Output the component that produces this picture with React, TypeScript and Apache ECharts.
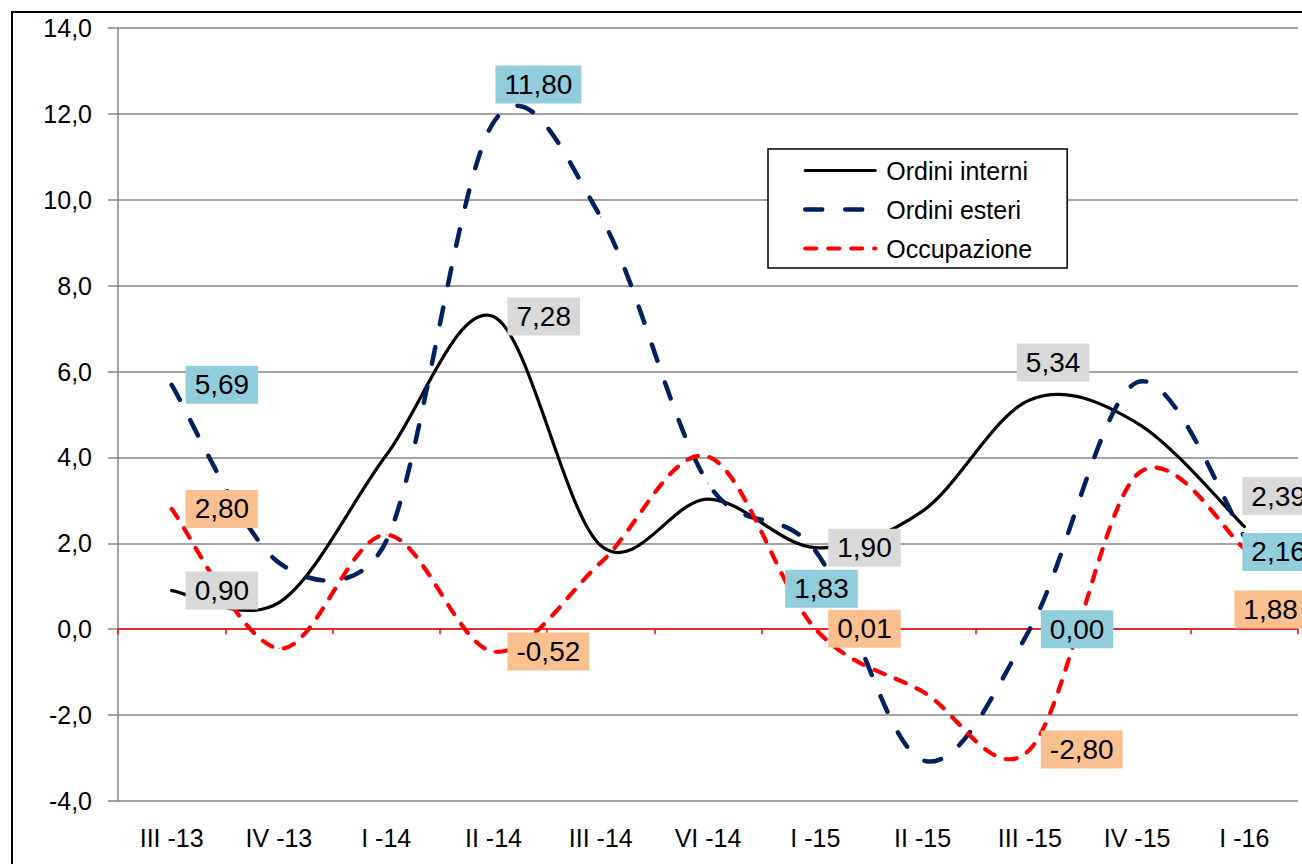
import React, { useEffect, useRef } from "react";
import * as echarts from "echarts";

const categories = ["III -13", "IV -13", "I -14", "II -14", "III -14", "VI -14", "I -15", "II -15", "III -15", "IV -15", "I -16"];
const interni = [0.9, 0.62, 4.05, 7.28, 1.95, 3.03, 1.9, 2.75, 5.34, 4.8, 2.39];
const esteri = [5.69, 1.55, 2.05, 11.8, 9.6, 3.4, 1.83, -3.05, 0.0, 5.75, 2.16];
const occupazione = [2.8, -0.45, 2.2, -0.52, 1.55, 4.02, 0.01, -1.45, -2.8, 3.6, 1.88];
const seriesNames = ["Ordini interni", "Ordini esteri", "Occupazione"];

const yMin = -4;
const yMax = 14;
const yStep = 2;

// label placement (style only): [dx, dy] relative to the point, null = no label
const interniLabelOffsets: (number[] | null)[] = [[13.5, 0], null, null, [13.5, 0], null, null, [12.5, 0], null, [-13.5, -37.5], null, [-2.5, -30.5]];
const esteriLabelOffsets: (number[] | null)[] = [[13.5, 0], null, null, [1.5, -38], null, null, [-30.5, 38], null, [10.5, 0], null, [-2.5, 15.5]];
const occLabelOffsets: (number[] | null)[] = [[13.5, 0], null, null, [13.5, 0], null, null, [12.5, 0], null, [10.5, 0], null, [-10.5, 61]];

const FONT = "'Liberation Sans', Arial, sans-serif";

function buildData(values: number[], offsets: (number[] | null)[], bg: string) {
  return values.map((v, i) => {
    const o = offsets[i];
    if (!o) return v;
    return { value: v, label: { show: true, offset: o, backgroundColor: bg } };
  });
}

// Line series: carries legend entry + data labels; its own line is hidden,
// the visible curve is drawn by the custom series below (Excel-like smoothing).
function makeLabelSeries(name: string, values: number[], offsets: (number[] | null)[], bg: string, color: string, width: number, type: any) {
  return {
    name,
    type: "line",
    xAxisIndex: 0,
    yAxisIndex: 0,
    data: buildData(values, offsets, bg),
    smooth: false,
    symbol: "circle",
    symbolSize: 1,
    showSymbol: true,
    z: 5,
    itemStyle: { color },
    lineStyle: { color, width, type, cap: "round", opacity: 0 },
    label: {
      show: false,
      position: "right",
      distance: 0,
      formatter: (p: any) => Number(p.value).toFixed(2).replace(".", ","),
      fontSize: 28,
      fontFamily: FONT,
      color: "#000",
      padding: [5, 9, 5, 9],
      lineHeight: 28,
    },
    emphasis: { disabled: true },
    silent: true,
  };
}

function dist(a: number[], b: number[]) {
  return Math.hypot(b[0] - a[0], b[1] - a[1]);
}

function makeCurveSeries(id: string, values: number[], color: string, width: number, dash: number[] | null) {
  return {
    id,
    name: id,
    type: "custom",
    xAxisIndex: 0,
    yAxisIndex: 0,
    z: 2,
    silent: true,
    data: [[0, values[0]]],
    renderItem: (params: any, api: any) => {
      const pts = values.map((v, i) => api.coord([i, v]));
      const n = pts.length;
      let d = `M ${pts[0][0]} ${pts[0][1]}`;
      for (let i = 0; i < n - 1; i++) {
        const p0 = pts[i - 1] || pts[i];
        const p1 = pts[i];
        const p2 = pts[i + 1];
        const p3 = pts[i + 2] || pts[i + 1];
        const seg = dist(p1, p2);
        const d02 = dist(p0, p2) || 1;
        const d13 = dist(p1, p3) || 1;
        let f1 = 1 / 6;
        let f2 = 1 / 6;
        if (d02 / 6 > seg / 2) f1 = seg / (2 * d02);
        if (d13 / 6 > seg / 2) f2 = seg / (2 * d13);
        const c1x = p1[0] + (p2[0] - p0[0]) * f1;
        const c1y = p1[1] + (p2[1] - p0[1]) * f1;
        const c2x = p2[0] - (p3[0] - p1[0]) * f2;
        const c2y = p2[1] - (p3[1] - p1[1]) * f2;
        d += ` C ${c1x} ${c1y} ${c2x} ${c2y} ${p2[0]} ${p2[1]}`;
      }
      const style: any = { fill: "none", stroke: color, lineWidth: width, lineCap: "round", lineJoin: "round" };
      if (dash) style.lineDash = dash;
      return { type: "path", shape: { pathData: d }, style };
    },
  };
}

export default function App() {
  const ref = useRef<HTMLDivElement>(null);
  useEffect(() => {
    if (!ref.current) return;
    const chart = echarts.init(ref.current, null, { renderer: "svg" });
    const option: any = {
      animation: false,
      backgroundColor: "#ffffff",
      grid: { left: 118, top: 28, width: 1180, height: 773, containLabel: false },
      graphic: [
        {
          type: "rect",
          silent: true,
          z: 100,
          shape: { x: 12, y: 12, width: 1400, height: 1000 },
          style: { fill: "none", stroke: "#000", lineWidth: 2 },
        },
      ],
      legend: {
        orient: "vertical",
        left: 768,
        top: 149,
        padding: [9, 35, 7, 35],
        backgroundColor: "#ffffff",
        borderColor: "#000",
        borderWidth: 1.5,
        itemWidth: 70,
        itemHeight: 14,
        itemGap: 14,
        z: 20,
        itemStyle: { opacity: 0 },
        lineStyle: { opacity: 1, width: "inherit" },
        textStyle: { fontSize: 25, fontFamily: FONT, color: "#000", lineHeight: 24, padding: [0, 0, 0, 6] },
        data: seriesNames,
        selectedMode: false,
      },
      xAxis: [
        {
          type: "category",
          data: categories,
          boundaryGap: true,
          position: "bottom",
          axisLine: { show: false, onZero: false },
          axisTick: { show: false },
          axisLabel: { fontSize: 25, fontFamily: FONT, color: "#000", margin: 24 },
          splitLine: { show: false },
        },
        {
          type: "category",
          data: categories,
          boundaryGap: true,
          position: "bottom",
          axisLine: { show: true, onZero: true, lineStyle: { color: "#FF0000", width: 1.5 } },
          axisTick: { show: true, length: 5, lineStyle: { color: "#FF0000", width: 1.5 } },
          axisLabel: { show: false },
          splitLine: { show: false },
        },
      ],
      yAxis: {
        type: "value",
        min: yMin,
        max: yMax,
        interval: yStep,
        axisLine: { show: true, lineStyle: { color: "#868686", width: 1.5 } },
        axisTick: { show: true, length: 10, lineStyle: { color: "#868686", width: 1.5 } },
        axisLabel: {
          fontSize: 25,
          fontFamily: FONT,
          color: "#000",
          margin: 26,
          formatter: (v: number) => v.toFixed(1).replace(".", ","),
        },
        splitLine: { show: true, lineStyle: { color: "#868686", width: 1.5 } },
      },
      series: [
        makeCurveSeries("curve-interni", interni, "#000000", 3.2, null),
        makeCurveSeries("curve-esteri", esteri, "#002060", 4.5, [17, 23]),
        makeCurveSeries("curve-occupazione", occupazione, "#FF0000", 4.2, [11, 12]),
        makeLabelSeries(seriesNames[0], interni, interniLabelOffsets, "#D9D9D9", "#000000", 3.2, "solid"),
        makeLabelSeries(seriesNames[1], esteri, esteriLabelOffsets, "#92CDDC", "#002060", 4.5, [17, 23]),
        makeLabelSeries(seriesNames[2], occupazione, occLabelOffsets, "#FAC090", "#FF0000", 4.2, [11, 12]),
      ],
    };
    chart.setOption(option);
    return () => chart.dispose();
  }, []);
  return <div ref={ref} style={{ position: "absolute", left: 0, top: 0, width: 1302, height: 864 }} />;
}
